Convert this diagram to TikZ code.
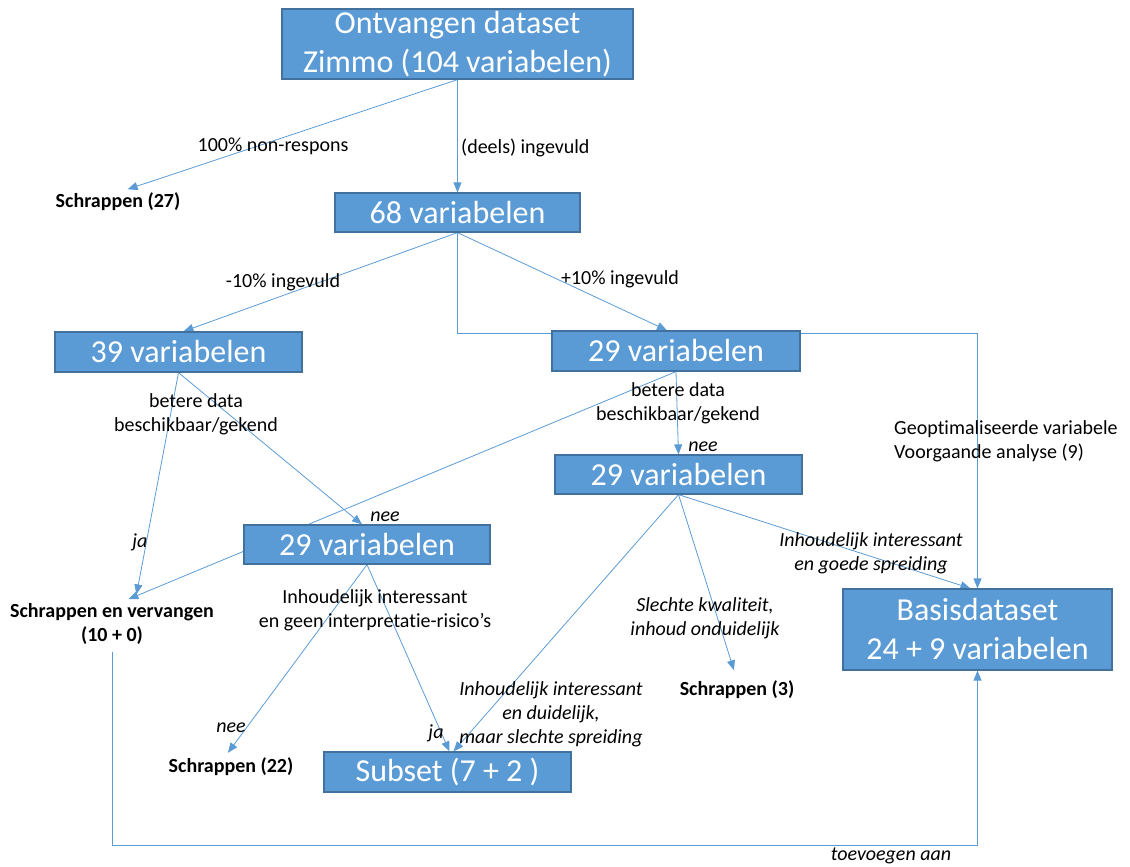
\documentclass[tikz,border=0pt]{standalone}
\usepackage{fontspec}
\setmainfont{Carlito}[Ligatures={TeX,NoCommon}]
\usetikzlibrary{arrows.meta,backgrounds}
\definecolor{boxblue}{HTML}{5B9BD5}
\definecolor{boxedge}{HTML}{41719C}

\begin{document}
\begin{tikzpicture}[x=1pt,y=-1pt,
  box/.style={draw=boxedge,line width=1.2pt,fill=boxblue,text=white,inner sep=0pt,align=center,font=\fontsize{32}{39}\selectfont},
  lbl/.style={inner sep=1pt,align=center,font=\fontsize{20}{24}\selectfont},
  ilbl/.style={lbl,font=\fontsize{20}{24}\selectfont\itshape},
  blbl/.style={lbl,font=\fontsize{20}{24}\selectfont\bfseries},
  ln/.style={draw=boxblue,line width=0.8pt},
  arr/.style={ln,-{Triangle[length=10pt,width=8pt]}}]
\useasboundingbox (0,0) rectangle (1130,867);

% boxes
\node[box,minimum width=351pt,minimum height=70pt] (top) at (457.5,44) {Ontvangen dataset\\Zimmo (104 variabelen)};
\node[box,minimum width=245pt,minimum height=39pt] (v68) at (457.5,212.5) {68 variabelen};
\node[box,minimum width=247pt,minimum height=40pt] (v39) at (178.5,352) {39 variabelen};
\node[box,minimum width=248pt,minimum height=40pt] (r29) at (676,351) {29 variabelen};
\node[box,minimum width=247pt,minimum height=39pt] (m29) at (678.5,474.5) {29 variabelen};
\node[box,minimum width=246pt,minimum height=39pt] (c29) at (367,544.5) {29 variabelen};
\node[box,minimum width=269pt,minimum height=81pt] (basis) at (977.5,629.5) {Basisdataset\\24 + 9 variabelen};
\node[box,minimum width=247pt,minimum height=40pt] (subset) at (447.5,772) {Subset (7 + 2 )};

% labels
\node[blbl] (s27) at (118,202) {Schrappen (27)};
\node[lbl] (nonresp) at (273,146) {100\% non-respons};
\node[lbl,anchor=west] (deels) at (460,148) {(deels) ingevuld};
\node[lbl] (min10) at (283,282) {-10\% ingevuld};
\node[lbl] (plus10) at (620,279) {+10\% ingevuld};
\node[lbl] (beterL) at (196,414) {betere data\\beschikbaar/gekend};
\node[lbl] (beterR) at (678,403) {betere data\\beschikbaar/gekend};
\node[ilbl] (neeL) at (385,517) {nee};
\node[ilbl] (jaL) at (140,542) {ja};
\node[ilbl] (neeR) at (703,447) {nee};
\node[lbl,anchor=west,align=left] (geopt) at (893,441) {Geoptimaliseerde variabele\\Voorgaande analyse (9)};
\node[ilbl] (goed) at (871,553) {Inhoudelijk interessant\\en goede spreiding};
\node[blbl] (svv) at (112,624) {Schrappen en vervangen\\(10 + 0)};
\node[lbl] (geen) at (375,610) {Inhoudelijk interessant\\en geen interpretatie-risico’s};
\node[ilbl] (slecht) at (705,618) {Slechte kwaliteit,\\inhoud onduidelijk};
\node[blbl] (s3) at (737,690) {Schrappen (3)};
\node[ilbl] (duid) at (551,714) {Inhoudelijk interessant\\en duidelijk,\\maar slechte spreiding};
\node[ilbl] (neeB) at (231,728) {nee};
\node[ilbl] (jaB) at (436,733) {ja};
\node[blbl] (s22) at (231,767) {Schrappen (22)};
\node[ilbl] (toev) at (891,856) {toevoegen aan};

% arrows
\begin{scope}[on background layer]
\draw[arr,shorten >=8pt] (top.south) -- ([xshift=2pt]s27.north);
\draw[arr] (top.south) -- (v68.north);
\draw[arr] (v68.south) -- ([xshift=5pt]v39.north);
\draw[arr] (v68.south) -- ([xshift=-9pt]r29.north);
\draw[ln] (v68.south) |- ([yshift=-3pt]r29.north west);
\draw[arr] ([yshift=-3pt]r29.north east) -| (basis.north);
\draw[arr,shorten >=8pt] (v39.south) -- ([xshift=23pt]svv.north);
\draw[arr] (v39.south) -- ([xshift=-5pt]c29.north);
\draw[arr,shorten >=8pt] (r29.south) -- ([xshift=9pt]svv.north);
\draw[arr] (r29.south) -- (m29.north);
\draw[arr] (m29.south) -- ([xshift=-7pt]basis.north);
\draw[arr,shorten >=10pt] (m29.south) -- (s3.north);
\draw[arr] (m29.south) -- ([xshift=6pt]subset.north);
\draw[arr,shorten >=5pt] (c29.south) -- ([xshift=-6pt]s22.north);
\draw[arr] (c29.south) -- ([xshift=2pt]subset.north);
\coordinate (back) at (112,845);
\draw[arr] ([yshift=-6pt]svv.south) -- (back) -| (basis.south);
\end{scope}
\end{tikzpicture}
\end{document}
